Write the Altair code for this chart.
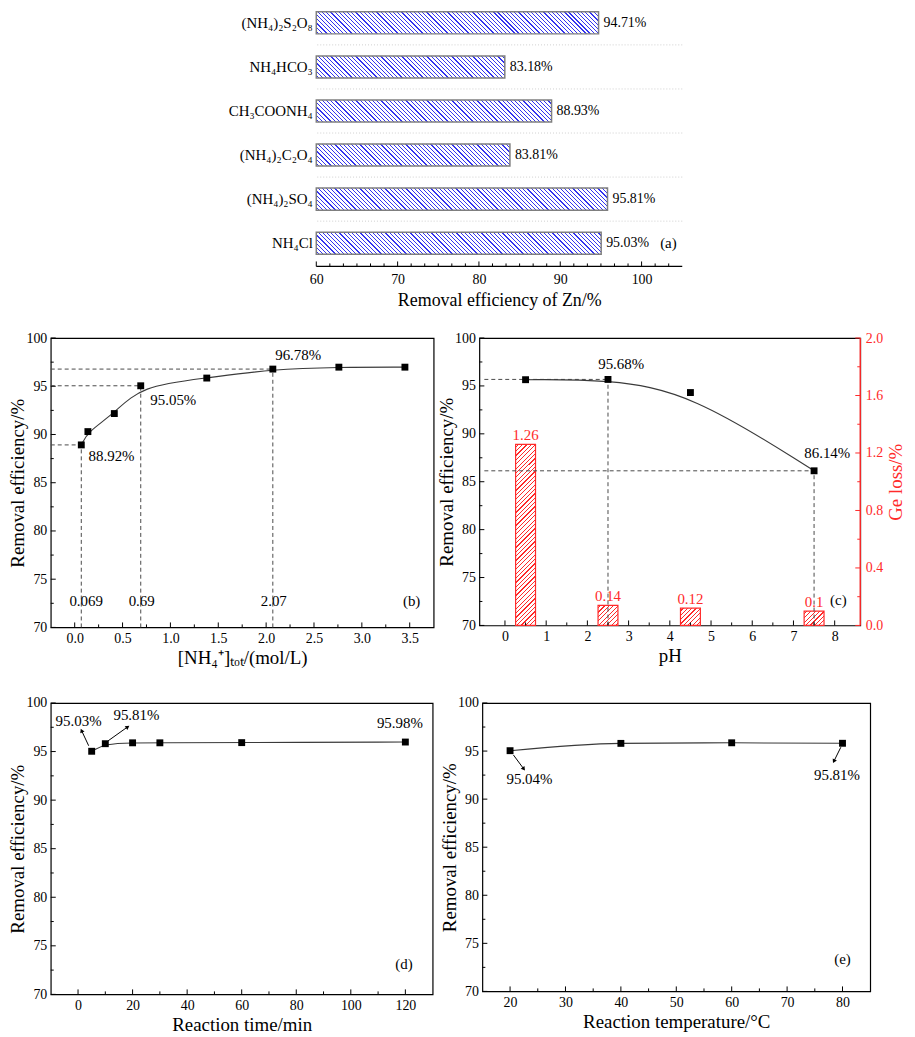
import math
import altair as alt
import pandas as pd

FONT = "Liberation Serif"
RED = "#ff2a2a"
BLUE = "#3434f0"
GRAY = "#7f7f7f"
LINE = "#3a3a3a"
DASH = "#4a4a4a"

# ---------------- data ----------------
salts = ["(NH₄)₂S₂O₈", "NH₄HCO₃", "CH₃COONH₄", "(NH₄)₂C₂O₄", "(NH₄)₂SO₄", "NH₄Cl"]
salt_eff = [94.71, 83.18, 88.93, 83.81, 95.81, 95.03]

nh4_conc = [0.069, 0.138, 0.414, 0.69, 1.38, 2.07, 2.76, 3.45]
nh4_eff = [88.92, 90.30, 92.17, 95.05, 95.85, 96.78, 96.98, 96.98]
nh4_marked = [0.069, 0.69, 2.07]
nh4_marked_eff = [88.92, 95.05, 96.78]

ph_vals = [0.5, 2.5, 4.5, 7.5]
ph_eff = [95.65, 95.68, 94.31, 86.14]
ge_loss = [1.26, 0.14, 0.12, 0.10]
ge_labels = ["1.26", "0.14", "0.12", "0.1"]
ph_marked = [2.5, 7.5]
ph_marked_eff = [95.68, 86.14]

time_vals = [5, 10, 20, 30, 60, 120]
time_eff = [95.03, 95.81, 95.90, 95.90, 95.92, 95.98]

temp_vals = [20, 40, 60, 80]
temp_eff = [95.04, 95.80, 95.86, 95.81]

# annotation texts and their positions (data units)
b_notes = ["88.92%", "95.05%", "96.78%", "0.069", "0.69", "2.07", "(b)"]
b_notes_x = [0.385, 1.03, 2.335, 0.12, 0.70, 2.08, 3.52]
b_notes_y = [87.8, 93.58, 98.28, 72.7, 72.7, 72.7, 72.7]

c_notes = ["95.68%", "86.14%", "(c)"]
c_notes_x = [2.82, 7.82, 8.09]
c_notes_y = [97.33, 88.02, 72.7]

d_notes = ["95.03%", "95.81%", "95.98%", "(d)"]
d_notes_x = [0.2, 21.4, 118.0, 119.5]
d_notes_y = [98.1, 98.8, 97.95, 73.1]
d_arrow_from_x = [3.9, 11.0]
d_arrow_from_y = [95.6, 96.1]
d_arrow_to_x = [1.4, 18.0]
d_arrow_to_y = [97.1, 97.5]

e_notes = ["95.04%", "95.81%", "(e)"]
e_notes_x = [23.5, 79.0, 80.0]
e_notes_y = [92.1, 92.5, 73.4]
e_arrow_from_x = [20.6, 79.7]
e_arrow_from_y = [94.6, 95.4]
e_arrow_to_x = [22.4, 78.5]
e_arrow_to_y = [93.2, 94.0]

# axis tick values
a_major = [60, 70, 80, 90, 100]
a_minor = [60 + i * 10 / 6 for i in range(1, 27) if i % 6]
y_major = [70, 75, 80, 85, 90, 95, 100]
y_minor = [72.5, 77.5, 82.5, 87.5, 92.5, 97.5]
b_xmajor = [0.0, 0.5, 1.0, 1.5, 2.0, 2.5, 3.0, 3.5]
b_xminor = [0.25, 0.75, 1.25, 1.75, 2.25, 2.75, 3.25]
c_xmajor = [0, 1, 2, 3, 4, 5, 6, 7, 8]
c_xminor = [0.5, 1.5, 2.5, 3.5, 4.5, 5.5, 6.5, 7.5]
ge_major = [0.0, 0.4, 0.8, 1.2, 1.6, 2.0]
ge_minor = [0.2, 0.6, 1.0, 1.4, 1.8]
d_xmajor = [0, 20, 40, 60, 80, 100, 120]
d_xminor = [10, 30, 50, 70, 90, 110]
e_xmajor = [20, 30, 40, 50, 60, 70, 80]
e_xminor = [25, 35, 45, 55, 65, 75]

# ---------------- layout ----------------
A_W, A_H = 368, 257
A_DOM = [60, 105]
A_PI, A_PO, A_ALIGN = 0.5, 0.15, 0.075
A_STEP = A_H / (len(salts) - A_PI + 2 * A_PO)
A_BW = A_STEP * (1 - A_PI)
SPACER_W = 178

B_W, B_H = 385, 291
B_XDOM = [-0.25, 3.75]
C_W, C_H = 383, 289
C_XDOM = [-0.5, 8.5]
D_W, D_H = 384, 293
D_XDOM = [-10, 130]
E_W, E_H = 390, 290
E_XDOM = [15, 85]
Y_DOM = [70, 100]
GE_DOM = [0, 2]

S1, S2, S_BC, S_DE = 21, 27, 2, 6
MAJ, MIN = 5, 3


def hatch(w, h, color, direction, period=4.2, lw=1.2):
    """Linear gradient that imitates a line hatch inside a w x h px box."""
    r = h / w
    k = (1 + r) / (1 + r * r)
    if direction == "back":
        x1, y1, x2, y2 = 0.0, 1.0, k, 1 - k * r
    else:
        x1, y1, x2, y2 = 0.0, 0.0, k, k * r
    span = w + h
    stops = [{"offset": 0.0, "color": "white"}]
    pos = period / 2
    while pos < span:
        a = round(pos / span, 5)
        b = round(min((pos + lw) / span, 1.0), 5)
        stops += [
            {"offset": a, "color": "white"},
            {"offset": a, "color": color},
            {"offset": b, "color": color},
            {"offset": b, "color": "white"},
        ]
        pos += period
    stops.append({"offset": 1.0, "color": "white"})
    return {"gradient": "linear", "x1": x1, "y1": y1, "x2": round(x2, 5),
            "y2": round(y2, 5), "stops": stops}


def x_ticks(vals, field, scale, axis, length, h, color="black"):
    return alt.Chart(pd.DataFrame({field: vals})).mark_rule(color=color, strokeWidth=1).encode(
        x=alt.X(f"{field}:Q", scale=scale, axis=axis),
        y=alt.value(h), y2=alt.value(h - length),
    )


def y_ticks(vals, field, scale, axis, length, w=None, color="black"):
    if w is not None:
        xv, x2v = alt.value(w), alt.value(w - length)
    else:
        xv, x2v = alt.value(0), alt.value(length)
    return alt.Chart(pd.DataFrame({field: vals})).mark_rule(color=color, strokeWidth=1).encode(
        y=alt.Y(f"{field}:Q", scale=scale, axis=axis), x=xv, x2=x2v,
    )


def x_axis(values, title, fmt=None):
    kw = dict(values=values, ticks=False, domain=False, grid=False, labelPadding=4,
              title=title, titlePadding=3, labelFont=FONT, titleFont=FONT,
              labelFontSize=14, titleFontSize=19, titleFontWeight="normal",
              labelColor="black", titleColor="black", labelFlush=False)
    if fmt:
        kw["format"] = fmt
    return alt.Axis(**kw)


def eff_axis():
    return alt.Axis(values=y_major, ticks=False, domain=False, grid=False, labelPadding=4,
                    title="Removal efficiency/%", titlePadding=-2, orient="left",
                    labelFont=FONT, titleFont=FONT, labelFontSize=14, titleFontSize=19,
                    titleFontWeight="normal", labelColor="black", titleColor="black")


def notes_layer(texts, xs, ys, xscale, yscale, xaxis, yaxis, color="black", size=15):
    df = pd.DataFrame({"x": xs, "y": ys, "t": texts})
    return alt.Chart(df).mark_text(font=FONT, fontSize=size, color=color,
                                   align="center", baseline="middle").encode(
        x=alt.X("x:Q", scale=xscale, axis=xaxis),
        y=alt.Y("y:Q", scale=yscale, axis=yaxis),
        text="t:N",
    )


def arrows(fx, fy, tx, ty, xscale, yscale, xaxis, yaxis, pxx, pxy):
    ang = []
    for a, b, c, d in zip(fx, fy, tx, ty):
        dx = (c - a) * pxx
        dy = -(d - b) * pxy
        ang.append(math.degrees(math.atan2(dx, -dy)) % 360)
    df = pd.DataFrame({"x": fx, "y": fy, "xe": tx, "ye": ty, "ang": ang})
    shaft = alt.Chart(df).mark_rule(color="black", strokeWidth=1).encode(
        x=alt.X("x:Q", scale=xscale, axis=xaxis), y=alt.Y("y:Q", scale=yscale, axis=yaxis),
        x2="xe:Q", y2="ye:Q")
    head = alt.Chart(df).mark_point(shape="triangle", filled=True, size=22, color="black",
                                    opacity=1).encode(
        x=alt.X("xe:Q", scale=xscale, axis=xaxis), y=alt.Y("ye:Q", scale=yscale, axis=yaxis),
        angle=alt.Angle("ang:Q", scale=None))
    return [shaft, head]


def dashed_guides(mx, my, xmin, xscale, yscale, xaxis, yaxis):
    rows = []
    for x, y in zip(mx, my):
        rows.append({"x": xmin, "y": y, "xe": x, "ye": y})
        rows.append({"x": x, "y": Y_DOM[0], "xe": x, "ye": y})
    return alt.Chart(pd.DataFrame(rows)).mark_rule(color=DASH, strokeWidth=1, strokeDash=[4, 3]).encode(
        x=alt.X("x:Q", scale=xscale, axis=xaxis), y=alt.Y("y:Q", scale=yscale, axis=yaxis),
        x2="xe:Q", y2="ye:Q")


# ---------------- panel (a) ----------------
df_a = pd.DataFrame({"idx": list(range(len(salts))), "salt": salts, "eff": salt_eff,
                     "lab": [f"{v:.2f}%" for v in salt_eff]})
a_xscale = alt.Scale(domain=A_DOM, nice=False, zero=False)
a_yscale = alt.Scale(domain=salts, paddingInner=A_PI, paddingOuter=A_PO, align=A_ALIGN)
a_yaxis = alt.Axis(title=None, ticks=False, domain=False, grid=False, labelPadding=4,
                   labelFont=FONT, labelFontSize=15, labelColor="black", labelLimit=0)
a_xaxis = alt.Axis(values=a_major, ticks=False, domain=False, grid=False, labelPadding=6,
                   title="Removal efficiency of Zn/%", titlePadding=5, labelFont=FONT,
                   titleFont=FONT, labelFontSize=14, titleFontSize=18, titleFontWeight="normal",
                   labelColor="black", titleColor="black", labelFlush=False)
AY = alt.Y("salt:N", scale=a_yscale, axis=a_yaxis)
AX = alt.X("eff:Q", scale=a_xscale, axis=a_xaxis)

a_layers = []
a_layers.append(
    alt.Chart(df_a).transform_filter(alt.datum.idx < len(salts) - 1)
    .mark_rule(color="#cfcfcf", strokeWidth=1, strokeDash=[1, 2], yOffset=A_BW)
    .encode(y=AY)
)
for i, v in enumerate(salt_eff):
    w = (v - A_DOM[0]) * A_W / (A_DOM[1] - A_DOM[0])
    a_layers.append(
        alt.Chart(df_a).transform_filter(alt.datum.idx == i)
        .mark_bar(fill=hatch(w, A_BW, BLUE, "back"), stroke=GRAY, strokeWidth=1.5)
        .encode(y=AY, x=AX, x2=alt.datum(A_DOM[0]))
    )
a_layers.append(
    alt.Chart(df_a).mark_text(font=FONT, fontSize=14, align="left", baseline="middle", dx=5)
    .encode(y=AY, x=AX, text="lab:N")
)
a_layers.append(
    alt.Chart(pd.DataFrame({"eff": [103.3], "salt": [salts[-1]], "t": ["(a)"]}))
    .mark_text(font=FONT, fontSize=15, align="center", baseline="middle")
    .encode(y=AY, x=AX, text="t:N")
)
a_layers.append(
    alt.Chart(pd.DataFrame({"eff": [0]})).mark_rule(color="black", strokeWidth=1.2)
    .encode(y=alt.value(A_H))
)
a_layers.append(x_ticks(a_major, "eff", a_xscale, a_xaxis, MAJ, A_H))
a_layers.append(x_ticks(a_minor, "eff", a_xscale, a_xaxis, MIN, A_H))
panel_a = alt.layer(*a_layers).properties(width=A_W, height=A_H,
                                           view=alt.ViewBackground(stroke=None))

spacer = alt.Chart(pd.DataFrame({"s": [0]})).mark_point(opacity=0).encode(
    x=alt.X("s:Q", axis=None), y=alt.Y("s:Q", axis=None)
).properties(width=SPACER_W, height=20, view=alt.ViewBackground(stroke=None))

# ---------------- panel (b) ----------------
b_xs = alt.Scale(domain=B_XDOM, nice=False, zero=False)
ys = alt.Scale(domain=Y_DOM, nice=False, zero=False)
df_b = pd.DataFrame({"x": nh4_conc, "y": nh4_eff})
b_xaxis = x_axis(b_xmajor, "[NH₄⁺]ₜₒₜ/(mol/L)", ".1f")
b_yaxis = eff_axis()
panel_b = alt.layer(
    dashed_guides(nh4_marked, nh4_marked_eff, B_XDOM[0], b_xs, ys, b_xaxis, b_yaxis),
    alt.Chart(df_b).mark_line(interpolate="basis", color=LINE, strokeWidth=1.1).encode(
        x=alt.X("x:Q", scale=b_xs, axis=b_xaxis), y=alt.Y("y:Q", scale=ys, axis=b_yaxis)),
    alt.Chart(df_b).mark_point(shape="square", filled=True, size=48, color="black", opacity=1).encode(
        x=alt.X("x:Q", scale=b_xs, axis=b_xaxis), y=alt.Y("y:Q", scale=ys, axis=b_yaxis)),
    notes_layer(b_notes, b_notes_x, b_notes_y, b_xs, ys, b_xaxis, b_yaxis),
    x_ticks(b_xmajor, "x", b_xs, b_xaxis, MAJ, B_H), x_ticks(b_xminor, "x", b_xs, b_xaxis, MIN, B_H),
    y_ticks(y_major, "y", ys, b_yaxis, MAJ), y_ticks(y_minor, "y", ys, b_yaxis, MIN),
).properties(width=B_W, height=B_H)

# ---------------- panel (c) ----------------
c_xs = alt.Scale(domain=C_XDOM, nice=False, zero=False)
ges = alt.Scale(domain=GE_DOM, nice=False, zero=True)
df_c = pd.DataFrame({"idx": list(range(len(ph_vals))), "x": ph_vals, "y": ph_eff,
                     "ge": ge_loss, "gl": ge_labels})
c_xaxis = x_axis(c_xmajor, "pH")
c_yaxis = eff_axis()
ge_axis = alt.Axis(values=ge_major, format=".1f", ticks=False, domain=False, grid=False,
                   labelPadding=5, labelColor=RED, title="Ge loss/%", titleColor=RED,
                   titleAngle=270, titleBaseline="top", titlePadding=4, orient="right",
                   labelFont=FONT, titleFont=FONT, labelFontSize=14, titleFontSize=19,
                   titleFontWeight="normal")
CX = alt.X("x:Q", scale=c_xs, axis=c_xaxis)
c_right = []
for i, g in enumerate(ge_loss):
    hpx = g / GE_DOM[1] * C_H
    c_right.append(
        alt.Chart(df_c).transform_filter(alt.datum.idx == i)
        .mark_bar(size=20, fill=hatch(20, hpx, RED, "fwd", period=4.4, lw=1.2),
                  stroke=RED, strokeWidth=1.2)
        .encode(x=CX, y=alt.Y("ge:Q", scale=ges, axis=ge_axis))
    )
c_right.append(
    alt.Chart(df_c).mark_text(font=FONT, fontSize=15, color=RED, align="center",
                              baseline="bottom", dy=-1)
    .encode(x=CX, y=alt.Y("ge:Q", scale=ges, axis=ge_axis), text="gl:N")
)
c_right.append(y_ticks(ge_major, "ge", ges, ge_axis, MAJ, w=C_W, color=RED))
c_right.append(y_ticks(ge_minor, "ge", ges, ge_axis, MIN, w=C_W, color=RED))
c_right.append(
    alt.Chart(pd.DataFrame({"ge": [0]})).mark_rule(color=RED, strokeWidth=1.4).encode(
        x=alt.value(C_W), y=alt.value(0), y2=alt.value(C_H))
)
c_left = alt.layer(
    dashed_guides(ph_marked, ph_marked_eff, C_XDOM[0], c_xs, ys, c_xaxis, c_yaxis),
    alt.Chart(df_c).mark_line(interpolate="basis", color=LINE, strokeWidth=1.1).encode(
        x=CX, y=alt.Y("y:Q", scale=ys, axis=c_yaxis)),
    alt.Chart(df_c).mark_point(shape="square", filled=True, size=48, color="black", opacity=1).encode(
        x=CX, y=alt.Y("y:Q", scale=ys, axis=c_yaxis)),
    notes_layer(c_notes, c_notes_x, c_notes_y, c_xs, ys, c_xaxis, c_yaxis),
    x_ticks(c_xmajor, "x", c_xs, c_xaxis, MAJ, C_H), x_ticks(c_xminor, "x", c_xs, c_xaxis, MIN, C_H),
    y_ticks(y_major, "y", ys, c_yaxis, MAJ), y_ticks(y_minor, "y", ys, c_yaxis, MIN),
)
panel_c = alt.layer(alt.layer(*c_right), c_left).resolve_scale(y="independent").properties(
    width=C_W, height=C_H)

# ---------------- panel (d) ----------------
d_xs = alt.Scale(domain=D_XDOM, nice=False, zero=False)
df_d = pd.DataFrame({"x": time_vals, "y": time_eff})
d_xaxis = x_axis(d_xmajor, "Reaction time/min")
d_yaxis = eff_axis()
panel_d = alt.layer(
    alt.Chart(df_d).mark_line(interpolate="basis", color=LINE, strokeWidth=1.1).encode(
        x=alt.X("x:Q", scale=d_xs, axis=d_xaxis), y=alt.Y("y:Q", scale=ys, axis=d_yaxis)),
    alt.Chart(df_d).mark_point(shape="square", filled=True, size=48, color="black", opacity=1).encode(
        x=alt.X("x:Q", scale=d_xs, axis=d_xaxis), y=alt.Y("y:Q", scale=ys, axis=d_yaxis)),
    *arrows(d_arrow_from_x, d_arrow_from_y, d_arrow_to_x, d_arrow_to_y, d_xs, ys, d_xaxis, d_yaxis,
            D_W / (D_XDOM[1] - D_XDOM[0]), D_H / (Y_DOM[1] - Y_DOM[0])),
    notes_layer(d_notes, d_notes_x, d_notes_y, d_xs, ys, d_xaxis, d_yaxis),
    x_ticks(d_xmajor, "x", d_xs, d_xaxis, MAJ, D_H), x_ticks(d_xminor, "x", d_xs, d_xaxis, MIN, D_H),
    y_ticks(y_major, "y", ys, d_yaxis, MAJ), y_ticks(y_minor, "y", ys, d_yaxis, MIN),
).properties(width=D_W, height=D_H)

# ---------------- panel (e) ----------------
e_xs = alt.Scale(domain=E_XDOM, nice=False, zero=False)
df_e = pd.DataFrame({"x": temp_vals, "y": temp_eff})
e_xaxis = x_axis(e_xmajor, "Reaction temperature/°C")
e_yaxis = eff_axis()
panel_e = alt.layer(
    alt.Chart(df_e).mark_line(interpolate="monotone", color=LINE, strokeWidth=1.1).encode(
        x=alt.X("x:Q", scale=e_xs, axis=e_xaxis), y=alt.Y("y:Q", scale=ys, axis=e_yaxis)),
    alt.Chart(df_e).mark_point(shape="square", filled=True, size=48, color="black", opacity=1).encode(
        x=alt.X("x:Q", scale=e_xs, axis=e_xaxis), y=alt.Y("y:Q", scale=ys, axis=e_yaxis)),
    *arrows(e_arrow_from_x, e_arrow_from_y, e_arrow_to_x, e_arrow_to_y, e_xs, ys, e_xaxis, e_yaxis,
            E_W / (E_XDOM[1] - E_XDOM[0]), E_H / (Y_DOM[1] - Y_DOM[0])),
    notes_layer(e_notes, e_notes_x, e_notes_y, e_xs, ys, e_xaxis, e_yaxis),
    x_ticks(e_xmajor, "x", e_xs, e_xaxis, MAJ, E_H), x_ticks(e_xminor, "x", e_xs, e_xaxis, MIN, E_H),
    y_ticks(y_major, "y", ys, e_yaxis, MAJ), y_ticks(y_minor, "y", ys, e_yaxis, MIN),
).properties(width=E_W, height=E_H)

# ---------------- assemble ----------------
row_a = alt.hconcat(spacer, panel_a, spacing=0)
row_bc = alt.hconcat(panel_b, panel_c, spacing=S_BC)
row_de = alt.hconcat(panel_d, panel_e, spacing=S_DE)

chart = alt.vconcat(row_a, alt.vconcat(row_bc, row_de, spacing=S2), spacing=S1).properties(
    padding=0
).configure(
    font=FONT
).configure_view(
    stroke="black", strokeWidth=1.2
).configure_axis(
    labelFont=FONT, titleFont=FONT, labelFontSize=14, titleFontSize=19,
    titleFontWeight="normal", labelColor="black", titleColor="black", labelFlush=False,
).configure_text(font=FONT)

chart.save("out.html", embed_options={"renderer": "svg", "actions": False})
